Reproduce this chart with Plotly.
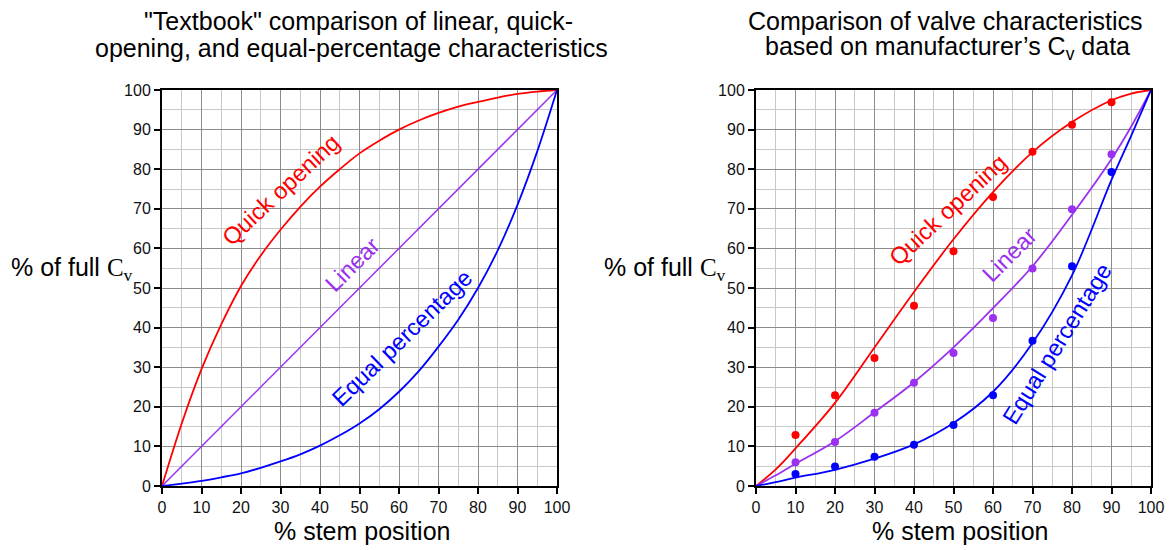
import plotly.graph_objects as go

# ---------------- data ----------------
stem_5 = [0, 5, 10, 15, 20, 25, 30, 35, 40, 45, 50, 55, 60, 65, 70, 75, 80, 85, 90, 95, 100]
tb_quick = [0, 15.8, 29.5, 40.8, 50.5, 58.2, 64.7, 70.5, 75.6, 80, 84, 87.2, 90, 92.3, 94.2, 95.8, 97, 98.1, 99, 99.6, 100]
tb_equal = [0, 0.6, 1.3, 2.2, 3.2, 4.6, 6.2, 8, 10.2, 12.8, 15.8, 19.4, 23.8, 29, 35.2, 42, 50, 59.5, 71, 84.5, 100]
lin_x = [0, 100]
lin_y = [0, 100]

fit_x = [0, 5, 10, 20, 30, 40, 50, 60, 70, 80, 90, 95, 100]
fit_quick = [0, 4.2, 9.5, 21, 35, 49, 62.3, 74.2, 84.3, 91.9, 97.4, 99.1, 100]
fit_linear = [0, 2.7, 5.6, 11.3, 18.6, 26.2, 35, 44.9, 55.5, 68.5, 82.6, 90.8, 100]
fit_equal = [0, 1.0, 2.1, 4.1, 6.9, 10.5, 15.9, 23.8, 36.1, 53.2, 77.3, 88.5, 100]

pt_x = [10, 20, 30, 40, 50, 60, 70, 80, 90]
pt_quick = [12.9, 22.9, 32.3, 45.5, 59.3, 73.0, 84.4, 91.2, 96.9]
pt_linear = [6.0, 11.1, 18.5, 26.1, 33.6, 42.4, 54.9, 69.9, 83.8]
pt_equal = [3.0, 4.9, 7.4, 10.4, 15.4, 22.9, 36.7, 55.5, 79.3]

tick_vals = [0, 10, 20, 30, 40, 50, 60, 70, 80, 90, 100]
tick_text = [str(v) for v in tick_vals]

RED = "#FF0000"
PURPLE = "#9B30F0"
BLUE = "#0000FF"
FONT = "Liberation Sans, Arial, sans-serif"

# the page body has an 8px margin; the figure is sized and placed to fill the 1175x550 window
OFF = 8
W, H = 1175 - OFF, 550 - OFF

fig = go.Figure()

# left chart
fig.add_trace(go.Scatter(x=stem_5, y=tb_quick, mode="lines", line=dict(color=RED, width=1.8, shape="spline"),
                         xaxis="x", yaxis="y", showlegend=False))
fig.add_trace(go.Scatter(x=lin_x, y=lin_y, mode="lines", line=dict(color=PURPLE, width=1.5),
                         xaxis="x", yaxis="y", showlegend=False))
fig.add_trace(go.Scatter(x=stem_5, y=tb_equal, mode="lines", line=dict(color=BLUE, width=1.8, shape="spline"),
                         xaxis="x", yaxis="y", showlegend=False))

# right chart
for fy, py, col in [(fit_quick, pt_quick, RED), (fit_linear, pt_linear, PURPLE), (fit_equal, pt_equal, BLUE)]:
    fig.add_trace(go.Scatter(x=fit_x, y=fy, mode="lines", line=dict(color=col, width=1.8, shape="spline"),
                             xaxis="x2", yaxis="y2", showlegend=False))
    fig.add_trace(go.Scatter(x=pt_x, y=py, mode="markers", marker=dict(color=col, size=8),
                             xaxis="x2", yaxis="y2", showlegend=False))

def px_x(p):
    return (p - OFF) / W

def px_y(p):
    return 1 - (p - OFF) / H

axis_common = dict(
    range=[0, 100], tickmode="array", tickvals=tick_vals, ticktext=tick_text,
    showgrid=True, gridcolor="#8C8C8C", gridwidth=1,
    minor=dict(dtick=5, tick0=0, showgrid=True, gridcolor="#C8C8C8", gridwidth=1.3, ticks=""),
    showline=True, linecolor="black", linewidth=2, mirror=True,
    ticks="outside", ticklen=6, tickwidth=1.5, tickcolor="black",
    tickfont=dict(family=FONT, size=16, color="#111"),
    zeroline=False, fixedrange=True, automargin=False,
)

fig.update_layout(
    width=W, height=H, autosize=False,
    margin=dict(l=0, r=0, t=0, b=0, pad=0, autoexpand=False),
    paper_bgcolor="white", plot_bgcolor="white",
    xaxis=dict(domain=[px_x(162), px_x(557)], anchor="y", **axis_common),
    yaxis=dict(domain=[px_y(486), px_y(90)], anchor="x", **axis_common),
    xaxis2=dict(domain=[px_x(756), px_x(1151)], anchor="y2", **axis_common),
    yaxis2=dict(domain=[px_y(486), px_y(90)], anchor="x2", **axis_common),
)

ann = []

def text_px(txt, x, y, size, xanchor="center", yanchor="middle", color="black"):
    ann.append(dict(text=txt, x=px_x(x), y=px_y(y), xref="paper", yref="paper", showarrow=False,
                    xanchor=xanchor, yanchor=yanchor, font=dict(family=FONT, size=size, color=color)))

# titles
text_px('"Textbook" comparison of linear, quick-', 359, 21, 25)
text_px('opening, and equal-percentage characteristics', 351, 48, 25)
text_px('Comparison of valve characteristics', 945, 21, 25)
text_px("based on manufacturer\u2019s C<sub>v</sub> data", 947, 48, 25)

# x axis titles
text_px("% stem position", 362, 531, 25)
text_px("% stem position", 960, 531, 25)

# y axis titles
ylab = "% of full <span style='font-family:Liberation Serif, Times New Roman, serif'>C<sub>v</sub></span>"
text_px(ylab, 9, 269, 25, xanchor="left")
text_px(ylab, 602, 269, 25, xanchor="left")

# curve labels (data coordinates)
def curve_label(txt, x, y, angle, color, xref, yref):
    ann.append(dict(text=txt, x=x, y=y, xref=xref, yref=yref, showarrow=False, textangle=angle,
                    xanchor="center", yanchor="middle", font=dict(family=FONT, size=23.5, color=color)))

curve_label("Quick opening", 30.1, 74.7, -43, RED, "x", "y")
curve_label("Linear", 48.1, 55.8, -45, PURPLE, "x", "y")
curve_label("Equal percentage", 60.8, 37.4, -44, BLUE, "x", "y")
curve_label("Quick opening", 48.6, 69.7, -43, RED, "x2", "y2")
curve_label("Linear", 64.1, 58.3, -45, PURPLE, "x2", "y2")
curve_label("Equal percentage", 76.2, 35.9, -58, BLUE, "x2", "y2")

fig.update_layout(annotations=ann)

fig.write_html("out.html")
